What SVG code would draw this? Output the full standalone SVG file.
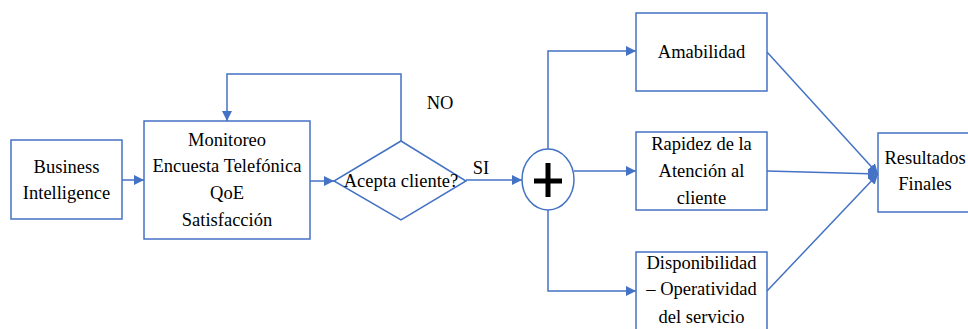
<svg xmlns="http://www.w3.org/2000/svg" width="968" height="329" viewBox="0 0 968 329">
  <style>
    .box { fill: #ffffff; stroke: #4472C4; stroke-width: 1.5; }
    .link { fill: none; stroke: #4472C4; stroke-width: 1.5; }
    .lbl { font-family: 'Liberation Serif', 'Times New Roman', 'DejaVu Serif', serif; font-size: 18.5px; fill: #000000; text-anchor: middle; }
  </style>
  <defs>
    <marker id="arrow" viewBox="0 0 10 10" refX="10" refY="5" markerWidth="10" markerHeight="10" markerUnits="userSpaceOnUse" orient="auto">
      <path d="M0,0 L10,5 L0,10 z" fill="#4472C4"/>
    </marker>
  </defs>
  <rect width="968" height="329" fill="#ffffff"/>

  <!-- connectors -->
  <g id="connectors">
    <line class="link" x1="122" y1="180" x2="144" y2="180" marker-end="url(#arrow)"/>
    <line class="link" x1="310" y1="181" x2="334" y2="181" marker-end="url(#arrow)"/>
    <polyline class="link" points="401,141 401,74 227,74 227,121" marker-end="url(#arrow)"/>
    <line class="link" x1="466" y1="180" x2="522" y2="180" marker-end="url(#arrow)"/>
    <polyline class="link" points="548,149 548,51 636,51" marker-end="url(#arrow)"/>
    <line class="link" x1="574" y1="171" x2="636" y2="171" marker-end="url(#arrow)"/>
    <polyline class="link" points="548,210 548,291 636,291" marker-end="url(#arrow)"/>
    <line class="link" x1="767" y1="52" x2="878" y2="174" marker-end="url(#arrow)"/>
    <line class="link" x1="767" y1="171" x2="878" y2="174" marker-end="url(#arrow)"/>
    <line class="link" x1="767" y1="291" x2="878" y2="174" marker-end="url(#arrow)"/>
    <text class="lbl" x="440" y="109" font-family="Liberation Serif, serif">NO</text>
    <text class="lbl" x="481" y="174" font-family="Liberation Serif, serif">SI</text>
  </g>

  <g id="business-intelligence" font-family="Liberation Serif, serif">
    <rect class="box" x="11" y="140" width="111" height="79"/>
    <text class="lbl" x="66.5" y="173">Business</text>
    <text class="lbl" x="66.5" y="199">Intelligence</text>
  </g>

  <g id="monitoreo">
    <rect class="box" x="144" y="121" width="166" height="118"/>
    <text class="lbl" x="227" y="146">Monitoreo</text>
    <text class="lbl" x="227" y="172">Encuesta Telefónica</text>
    <text class="lbl" x="227" y="199">QoE</text>
    <text class="lbl" x="227" y="226">Satisfacción</text>
  </g>

  <g id="acepta-cliente">
    <polygon class="box" points="401,141 466,181 401,220 334,181"/>
    <text class="lbl" x="401" y="187">Acepta cliente?</text>
  </g>

  <g id="suma">
    <ellipse class="box" cx="548" cy="179.5" rx="26" ry="30.5"/>
    <path d="M534,181 H562 M548,163 V197" stroke="#000000" stroke-width="5" fill="none"/>
  </g>

  <g id="amabilidad">
    <rect class="box" x="636" y="13" width="131" height="78"/>
    <text class="lbl" x="701.5" y="58">Amabilidad</text>
  </g>

  <g id="rapidez">
    <rect class="box" x="636" y="132" width="131" height="78"/>
    <text class="lbl" x="701.5" y="150">Rapidez de la</text>
    <text class="lbl" x="701.5" y="177">Atención al</text>
    <text class="lbl" x="701.5" y="204">cliente</text>
  </g>

  <g id="disponibilidad">
    <rect class="box" x="636" y="252" width="131" height="90"/>
    <text class="lbl" x="701.5" y="269">Disponibilidad</text>
    <text class="lbl" x="701.5" y="295">– Operatividad</text>
    <text class="lbl" x="701.5" y="323">del servicio</text>
  </g>

  <g id="resultados">
    <rect class="box" x="878" y="133" width="100" height="79"/>
    <text class="lbl" x="925" y="164">Resultados</text>
    <text class="lbl" x="925" y="190">Finales</text>
  </g>
</svg>
